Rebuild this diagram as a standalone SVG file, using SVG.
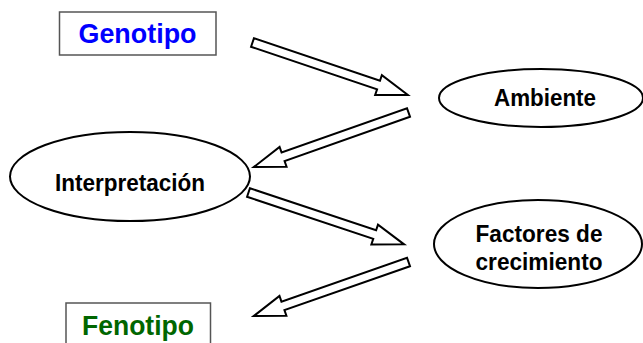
<svg xmlns="http://www.w3.org/2000/svg" xmlns:xlink="http://www.w3.org/1999/xlink" width="643" height="343" viewBox="0 0 643 343">
<style>
.box{fill:#fff;stroke:#555;stroke-width:1.5}
.ell{fill:#fff;stroke:#000;stroke-width:2}
.arr{fill:#fff;stroke:#000;stroke-width:2;stroke-linejoin:miter}
text{font-family:"Liberation Sans",Arial,sans-serif;font-weight:bold;text-anchor:middle}
.lbl{font-size:24px;fill:#000}
.big{font-size:27px}
</style>
<defs>
<path id="blockArrow" d="M0,-4.5 L133,-4.5 L133,-10.5 L164,0 L133,10.5 L133,4.5 L0,4.5 Z"/>
</defs>
<rect width="643" height="343" fill="#fff"/>
<g id="connectors">
<use xlink:href="#blockArrow" class="arr" transform="translate(252.5,42.5) rotate(18.65)"/>
<use xlink:href="#blockArrow" class="arr" transform="translate(408.5,112.5) rotate(160.57)"/>
<use xlink:href="#blockArrow" class="arr" transform="translate(248.5,192.5) rotate(18.43)"/>
<use xlink:href="#blockArrow" class="arr" transform="translate(408.5,262) rotate(160.74)"/>
</g>
<g id="genotipo">
<rect class="box" x="59.5" y="12" width="156.5" height="43"/>
<text class="big" x="137.5" y="43" fill="#0000ff" textLength="118" lengthAdjust="spacingAndGlyphs">Genotipo</text>
</g>
<g id="ambiente">
<ellipse class="ell" cx="541" cy="98" rx="102" ry="29"/>
<text class="lbl" x="545" y="106" textLength="102" lengthAdjust="spacingAndGlyphs">Ambiente</text>
</g>
<g id="interpretacion">
<ellipse class="ell" cx="130" cy="176.5" rx="120" ry="44.5"/>
<text class="lbl" x="130" y="190.5" textLength="150" lengthAdjust="spacingAndGlyphs">Interpretación</text>
</g>
<g id="factores">
<ellipse class="ell" cx="538" cy="244" rx="104" ry="44"/>
<text class="lbl" x="539" y="242" textLength="127" lengthAdjust="spacingAndGlyphs">Factores de</text>
<text class="lbl" x="539" y="270" textLength="127" lengthAdjust="spacingAndGlyphs">crecimiento</text>
</g>
<g id="fenotipo">
<rect class="box" x="66" y="303" width="144.5" height="45"/>
<text class="big" x="138" y="334.5" fill="#006600" textLength="112" lengthAdjust="spacingAndGlyphs">Fenotipo</text>
</g>
</svg>
